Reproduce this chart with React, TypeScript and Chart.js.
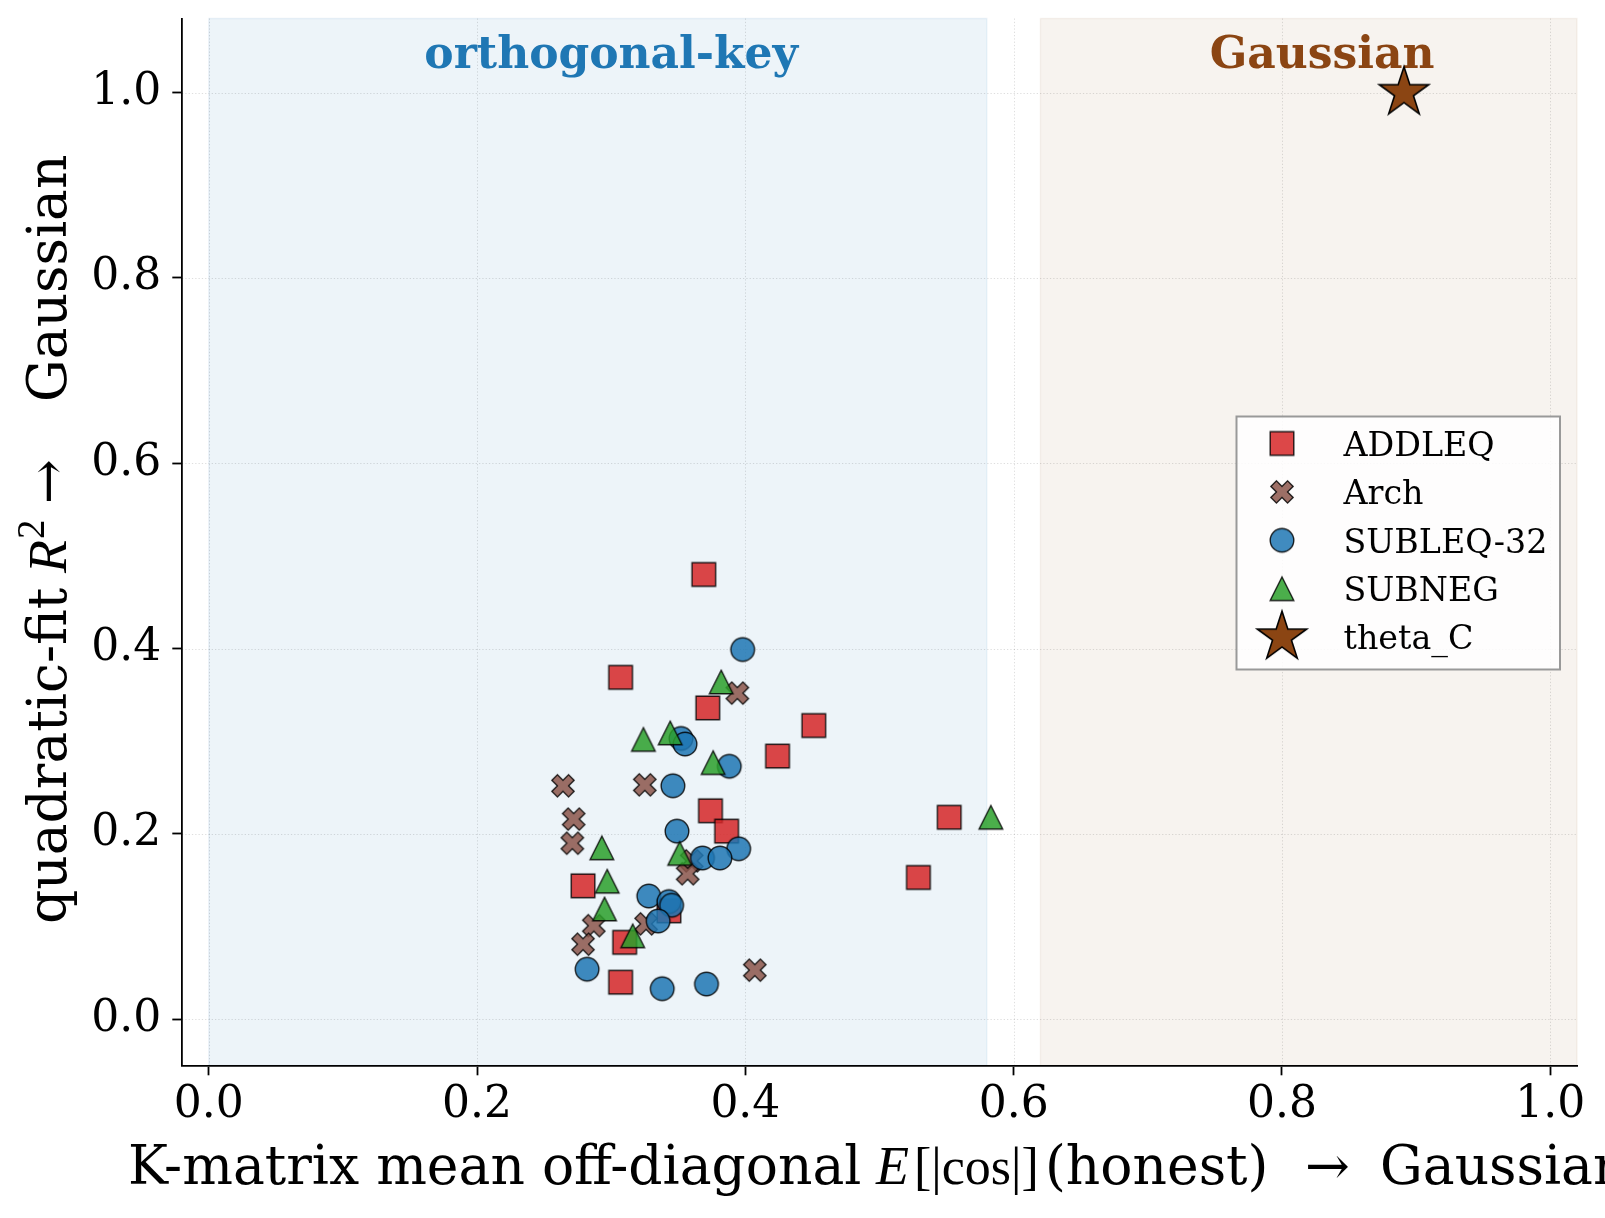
import { useEffect, useRef } from "react";
import { Chart, registerables } from "chart.js";

Chart.register(...registerables);

// ---------------- data ----------------
const X_TICKS = [0, 0.2, 0.4, 0.6, 0.8, 1.0];
const Y_TICKS = [0, 0.2, 0.4, 0.6, 0.8, 1.0];

const SERIES_NAMES = ["ADDLEQ", "Arch", "SUBLEQ-32", "SUBNEG", "theta_C"];

const ADDLEQ_X = [0.369, 0.307, 0.372, 0.424, 0.451, 0.552, 0.529, 0.374, 0.386, 0.279, 0.343, 0.31, 0.307];
const ADDLEQ_Y = [0.48, 0.369, 0.336, 0.284, 0.317, 0.218, 0.153, 0.225, 0.203, 0.144, 0.117, 0.083, 0.04];

const ARCH_X = [0.394, 0.264, 0.325, 0.272, 0.271, 0.36, 0.357, 0.326, 0.287, 0.279, 0.407];
const ARCH_Y = [0.352, 0.252, 0.253, 0.216, 0.19, 0.171, 0.157, 0.103, 0.101, 0.081, 0.053];

const SUBLEQ_X = [0.398, 0.352, 0.355, 0.388, 0.346, 0.349, 0.395, 0.368, 0.381, 0.328, 0.343, 0.345, 0.335, 0.282, 0.338, 0.371];
const SUBLEQ_Y = [0.399, 0.303, 0.297, 0.273, 0.252, 0.203, 0.184, 0.174, 0.174, 0.133, 0.127, 0.123, 0.106, 0.054, 0.033, 0.038];

const SUBNEG_X = [0.382, 0.324, 0.344, 0.376, 0.583, 0.293, 0.351, 0.297, 0.295, 0.316];
const SUBNEG_Y = [0.364, 0.302, 0.309, 0.277, 0.218, 0.185, 0.179, 0.149, 0.119, 0.09];

const THETA_X = [0.891];
const THETA_Y = [1.0];

const REGIONS = [
  { label: "orthogonal-key", from: 0.0, to: 0.58 },
  { label: "Gaussian", from: 0.62, to: 1.02 },
];

// ---------------- styling ----------------
const FONT = "'DejaVu Serif'";
const MATH = "'Liberation Serif'";
const COLORS = ["#d62728", "#8c564b", "#1f77b4", "#2ca02c", "#8B4513"];
const KINDS = ["square", "x", "circle", "triangle", "star"];

function makeMarker(kind: string, fill: string, alpha: number): HTMLCanvasElement {
  const size = kind === "star" ? 52 : 23.6;
  const lw = kind === "star" ? 1.6 : 1.4;
  const dim = Math.ceil(size + 8);
  const d = dim % 2 === 0 ? dim : dim + 1;
  const c = document.createElement("canvas");
  c.width = d;
  c.height = d;
  const ctx = c.getContext("2d")!;
  ctx.translate(d / 2, d / 2);
  ctx.beginPath();
  const h = size / 2;
  if (kind === "square") {
    ctx.rect(-h, -h, size, size);
  } else if (kind === "circle") {
    ctx.arc(0, 0, h, 0, Math.PI * 2);
  } else if (kind === "triangle") {
    ctx.moveTo(0, -h);
    ctx.lineTo(-h, h);
    ctx.lineTo(h, h);
    ctx.closePath();
  } else if (kind === "x") {
    const pts = [[-1, -3], [-1, -1], [-3, -1], [-3, 1], [-1, 1], [-1, 3], [1, 3], [1, 1], [3, 1], [3, -1], [1, -1], [1, -3]];
    const a = Math.PI / 4;
    pts.forEach((p, i) => {
      const px = (p[0] * size) / 6;
      const py = (p[1] * size) / 6;
      const rx = px * Math.cos(a) - py * Math.sin(a);
      const ry = px * Math.sin(a) + py * Math.cos(a);
      if (i === 0) ctx.moveTo(rx, ry);
      else ctx.lineTo(rx, ry);
    });
    ctx.closePath();
  } else if (kind === "star") {
    const R = size / 2;
    const r = R * 0.381966;
    for (let k = 0; k < 10; k++) {
      const rad = k % 2 === 0 ? R : r;
      const ang = -Math.PI / 2 + (k * Math.PI) / 5;
      const px = rad * Math.cos(ang);
      const py = rad * Math.sin(ang);
      if (k === 0) ctx.moveTo(px, py);
      else ctx.lineTo(px, py);
    }
    ctx.closePath();
  }
  ctx.globalAlpha = alpha;
  ctx.fillStyle = fill;
  ctx.fill();
  ctx.lineJoin = "miter";
  ctx.lineWidth = lw;
  ctx.strokeStyle = "#000";
  ctx.stroke();
  return c;
}

type Seg = { t: string; at: number; font: string; dy?: number };

function drawSegs(ctx: CanvasRenderingContext2D, segs: Seg[], y: number) {
  ctx.textAlign = "left";
  ctx.textBaseline = "alphabetic";
  segs.forEach((s) => {
    ctx.font = s.font;
    ctx.fillText(s.t, s.at, y + (s.dy ?? 0));
  });
}

export default function App() {
  const ref = useRef<HTMLCanvasElement | null>(null);

  useEffect(() => {
    document.body.style.margin = "0";
    const canvas = ref.current!;
    const markers = KINDS.map((k, i) => makeMarker(k, COLORS[i], k === "star" ? 1 : 0.85));
    const xs = [ADDLEQ_X, ARCH_X, SUBLEQ_X, SUBNEG_X, THETA_X];
    const ys = [ADDLEQ_Y, ARCH_Y, SUBLEQ_Y, SUBNEG_Y, THETA_Y];

    const datasets = SERIES_NAMES.map((name, i) => ({
      label: name,
      data: xs[i].map((x, j) => ({ x, y: ys[i][j] })),
      pointStyle: markers[i] as any,
      pointRadius: 12,
      pointHoverRadius: 12,
      order: 10 - i,
    }));

    const decor = {
      id: "decor",
      beforeDraw(chart: any) {
        const ctx = chart.ctx as CanvasRenderingContext2D;
        const a = chart.chartArea;
        const sx = chart.scales.x;
        const sy = chart.scales.y;
        const spanColors = ["rgba(31,119,180,0.08)", "rgba(139,69,19,0.065)"];
        ctx.save();
        REGIONS.forEach((r, i) => {
          const x0 = sx.getPixelForValue(r.from);
          const x1 = Math.min(sx.getPixelForValue(r.to), a.right);
          ctx.fillStyle = spanColors[i];
          ctx.fillRect(x0, a.top, x1 - x0, a.bottom - a.top);
          ctx.strokeStyle = spanColors[i];
          ctx.lineWidth = 1.4;
          ctx.strokeRect(x0, a.top, x1 - x0, a.bottom - a.top);
        });
        ctx.strokeStyle = "rgba(0,0,0,0.13)";
        ctx.lineWidth = 1;
        ctx.setLineDash([1.3, 2]);
        X_TICKS.forEach((v) => {
          const px = Math.round(sx.getPixelForValue(v)) + 0.5;
          ctx.beginPath();
          ctx.moveTo(px, a.top);
          ctx.lineTo(px, a.bottom);
          ctx.stroke();
        });
        Y_TICKS.forEach((v) => {
          const py = Math.round(sy.getPixelForValue(v)) + 0.5;
          ctx.beginPath();
          ctx.moveTo(a.left, py);
          ctx.lineTo(a.right, py);
          ctx.stroke();
        });
        ctx.restore();
      },
      beforeDatasetsDraw(chart: any) {
        const ctx = chart.ctx as CanvasRenderingContext2D;
        const sx = chart.scales.x;
        const sy = chart.scales.y;
        ctx.save();
        ctx.font = `bold 44px ${FONT}`;
        ctx.textAlign = "center";
        ctx.textBaseline = "alphabetic";
        const by = sy.getPixelForValue(1.027);
        ctx.fillStyle = "#1f77b4";
        ctx.fillText(REGIONS[0].label, sx.getPixelForValue(0.3), by);
        ctx.fillStyle = "#8B4513";
        ctx.fillText(REGIONS[1].label, sx.getPixelForValue(0.83), by);
        ctx.restore();
      },
      afterDraw(chart: any) {
        const ctx = chart.ctx as CanvasRenderingContext2D;
        ctx.save();
        // legend
        const lx = 1236.5, ly = 416.5, lw = 323.5, lh = 253;
        ctx.fillStyle = "rgba(255,255,255,0.85)";
        ctx.fillRect(lx, ly, lw, lh);
        ctx.strokeStyle = "#999";
        ctx.lineWidth = 2;
        ctx.strokeRect(lx, ly, lw, lh);
        ctx.font = `33.3px ${FONT}`;
        ctx.fillStyle = "#000";
        ctx.textAlign = "left";
        ctx.textBaseline = "alphabetic";
        SERIES_NAMES.forEach((name, i) => {
          const cy = 443.5 + 48.4 * i;
          const m = markers[i];
          ctx.drawImage(m, 1282 - m.width / 2, cy - m.height / 2);
          ctx.fillText(name, 1343.5, cy + 12.2);
        });
        // axis titles
        ctx.fillStyle = "#000";
        const T = `53.5px ${FONT}`;
        drawSegs(
          ctx,
          [
            { t: "K-matrix mean off-diagonal", at: 128, font: T },
            { t: "E", at: 876, font: `italic 54px ${MATH}` },
            { t: "[|cos|]", at: 914, font: `52px ${MATH}` },
            { t: "(honest)", at: 1045, font: T },
            { t: "→", at: 1305, font: T },
            { t: "Gaussian", at: 1380, font: T },
          ],
          1184
        );
        ctx.translate(66, 924);
        ctx.rotate(-Math.PI / 2);
        drawSegs(
          ctx,
          [
            { t: "quadratic-fit", at: 0, font: T },
            { t: "R", at: 351, font: `italic 54px ${MATH}` },
            { t: "2", at: 385, font: `39px ${MATH}`, dy: -22 },
            { t: "→", at: 420, font: T },
            { t: "Gaussian", at: 522, font: T },
          ],
          0
        );
        ctx.restore();
      },
    };

    const tickFont = { family: FONT, size: 44 };
    const chart = new Chart(canvas, {
      type: "scatter",
      data: { datasets: datasets as any },
      options: {
        responsive: false,
        animation: false,
        devicePixelRatio: 1,
        layout: { padding: { left: 0, top: 18.5, right: 28, bottom: 0 } },
        plugins: { legend: { display: false }, tooltip: { enabled: false }, title: { display: false } },
        scales: {
          x: {
            type: "linear",
            min: -0.02,
            max: 1.02,
            afterBuildTicks: (s: any) => {
              s.ticks = X_TICKS.map((v) => ({ value: v }));
            },
            afterFit: (s: any) => {
              s.height = 1218 - 1065.6;
              s.paddingLeft = 0;
              s.paddingRight = 0;
            },
            ticks: {
              font: tickFont,
              color: "#000",
              padding: 4,
              maxRotation: 0,
              autoSkip: false,
              callback: (v: any) => Number(v).toFixed(1),
            },
            grid: { display: true, drawOnChartArea: false, drawTicks: true, tickLength: 9.7, tickWidth: 1.8, tickColor: "#000" },
            border: { display: true, color: "#000", width: 1.8 },
          },
          y: {
            type: "linear",
            min: -0.05,
            max: 1.08,
            afterBuildTicks: (s: any) => {
              s.ticks = Y_TICKS.map((v) => ({ value: v }));
            },
            afterFit: (s: any) => {
              s.width = 182;
              s.paddingTop = 0;
              s.paddingBottom = 0;
            },
            ticks: {
              font: tickFont,
              color: "#000",
              padding: 11,
              autoSkip: false,
              callback: (v: any) => Number(v).toFixed(1),
            },
            grid: { display: true, drawOnChartArea: false, drawTicks: true, tickLength: 9.7, tickWidth: 1.8, tickColor: "#000" },
            border: { display: true, color: "#000", width: 1.8 },
          },
        },
      },
      plugins: [decor as any],
    });
    return () => chart.destroy();
  }, []);

  return (
    <canvas
      ref={ref}
      width={1605}
      height={1218}
      style={{ display: "block", position: "absolute", left: 0, top: 0, width: 1605, height: 1218 }}
    />
  );
}
